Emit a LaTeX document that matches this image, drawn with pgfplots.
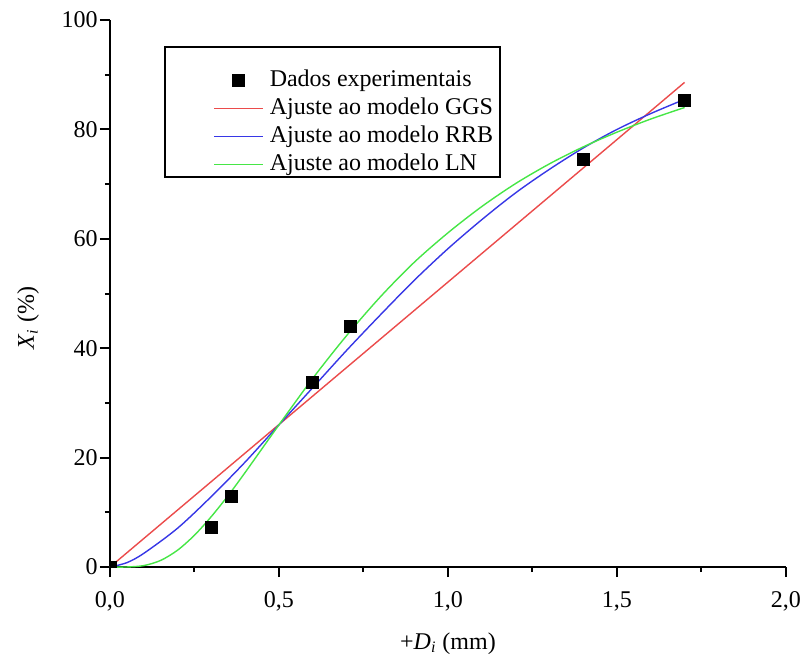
\documentclass[border=0pt]{standalone}
\usepackage{fontspec}
\setmainfont{Liberation Serif}
\usepackage{pgfplots}
\pgfplotsset{compat=1.18}
\definecolor{cred}{RGB}{235,75,75}
\definecolor{cblue}{RGB}{55,55,230}
\definecolor{cgreen}{RGB}{70,230,70}
\begin{document}
\fontsize{12}{14}\selectfont
\begin{tikzpicture}
\begin{axis}[
 scale only axis, width=338pt, height=273.5pt,
 xmin=0, xmax=2, ymin=0, ymax=100,
 axis x line*=bottom, axis y line*=left,
 tick align=outside,
 major tick length=5pt, minor tick length=2.5pt,
 xtick={0,0.5,1,1.5,2}, minor x tick num=1,
 ytick={0,20,40,60,80,100}, minor y tick num=1,
 x tick label style={/pgf/number format/fixed, /pgf/number format/fixed zerofill, /pgf/number format/precision=1, /pgf/number format/use comma, /tikz/yshift=-3pt},
 y tick label style={/tikz/xshift=3pt},
 /pgf/number format/assume math mode=true,
 tick label style={font=\fontsize{12}{14}\selectfont},
 axis line style={line width=1pt},
 every tick/.style={black, line width=1pt},
 clip mode=individual, clip marker paths=true,
 xlabel={+\textit{D}\textsubscript{\textit{i}} (mm)},
 ylabel={\textit{X}\textsubscript{\textit{i}} (\%)},
 label style={font=\fontsize{12}{14}\selectfont},
 x label style={at={(rel axis cs:0.5,-0.14)}, anchor=center},
 y label style={at={(rel axis cs:-0.121,0.455)}, anchor=center},
 legend style={draw=none, fill=none, at={(rel axis cs:0.1524,0.9105)}, anchor=north west,
   inner sep=0pt, row sep=3pt,
   nodes={inner ysep=0pt, inner xsep=3pt, text height=8.5pt, text depth=2.5pt, font=\fontsize{12}{14}\selectfont}},
 legend cell align=left,
]
\coordinate (bl) at (rel axis cs:-0.1627,-0.170);
\coordinate (tr) at (rel axis cs:1.0222,1.0366);
\draw[black, line width=0.7pt] (rel axis cs:0.0814,0.951) rectangle (rel axis cs:0.5769,0.713);

\addlegendimage{legend image code/.code={\fill[black] (0.43cm-3pt,-3pt) rectangle (0.43cm+3pt,3pt);}}
\addlegendentry{Dados experimentais}
\addlegendimage{legend image code/.code={\draw[cred, line width=0.7pt] (0cm,0cm) -- (0.86cm,0cm);}}
\addlegendentry{Ajuste ao modelo GGS}
\addlegendimage{legend image code/.code={\draw[cblue, line width=0.7pt] (0cm,0cm) -- (0.86cm,0cm);}}
\addlegendentry{Ajuste ao modelo RRB}
\addlegendimage{legend image code/.code={\draw[cgreen, line width=0.7pt] (0cm,0cm) -- (0.86cm,0cm);}}
\addlegendentry{Ajuste ao modelo LN}

\addplot[cred, line width=0.7pt, forget plot] coordinates {
(0,0) (0.5,26.05) (1.0,52.1) (1.5,78.15) (1.7,88.6)
};

\addplot[cblue, line width=0.7pt, smooth, forget plot] coordinates {
(0,0) (0.05,0.8) (0.1,2.5) (0.2,7.1) (0.3,12.9) (0.4,19.2) (0.5,26.0) (0.6,32.8) (0.7,39.6)
(0.8,46.1) (0.9,52.4) (1.0,58.2) (1.1,63.5) (1.2,68.4) (1.3,72.7) (1.4,76.6)
(1.5,80.0) (1.6,82.9) (1.7,85.5)
};

\addplot[cgreen, line width=0.7pt, smooth, forget plot] coordinates {
(0,0) (0.05,0.01) (0.1,0.26) (0.15,1.21) (0.2,3.08) (0.25,5.82) (0.3,9.24) (0.35,13.1)
(0.4,17.3) (0.5,26.0) (0.6,34.5) (0.7,42.3) (0.8,49.4) (0.9,55.7) (1.0,61.1)
(1.1,65.9) (1.2,70.1) (1.3,73.7) (1.4,76.8) (1.5,79.5) (1.6,81.9) (1.7,84.0)
};

\addplot[only marks, mark=square*, black, mark size=3pt, forget plot] coordinates {
(0,0) (0.30,7.3) (0.36,13.0) (0.60,33.8) (0.71,43.9) (1.40,74.6) (1.70,85.3)
};
\end{axis}
\pgfresetboundingbox
\path[use as bounding box] (bl) rectangle (tr);
\end{tikzpicture}
\end{document}
